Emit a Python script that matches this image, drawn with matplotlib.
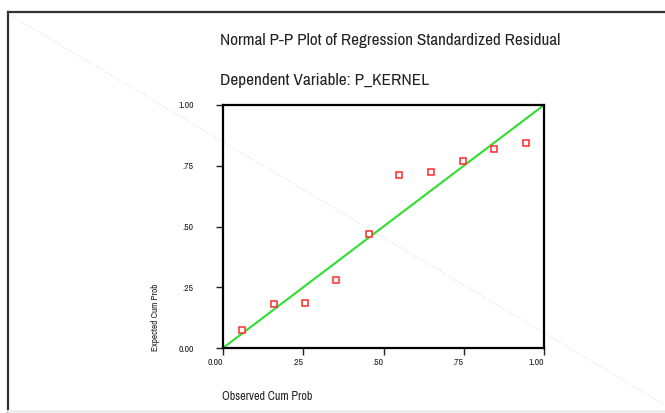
import matplotlib
matplotlib.use('Agg')
import matplotlib.pyplot as plt
from matplotlib import font_manager

# Data
observed = [0.059, 0.160, 0.255, 0.352, 0.454, 0.549, 0.649, 0.748, 0.843, 0.944]
expected = [0.075, 0.182, 0.186, 0.281, 0.470, 0.711, 0.725, 0.771, 0.819, 0.845]
ticks = [0.0, 0.25, 0.5, 0.75, 1.0]
tick_labels = ['0.00', '.25', '.50', '.75', '1.00']

# prefer a narrow sans face if one is installed
font = 'Liberation Sans'
for f in font_manager.fontManager.ttflist:
    if 'Narrow' in f.name or 'Condensed' in f.name:
        font = f.name
        break
plt.rcParams['font.family'] = [font, 'DejaVu Sans']

W, H = 665, 413
fig = plt.figure(figsize=(W / 100, H / 100), dpi=100)

# page frame and faint diagonal in the background
fig.add_artist(plt.Line2D([8 / W, 8 / W], [0, 1 - 12 / H], color='#333333', lw=1.6))
fig.add_artist(plt.Line2D([8 / W, 1], [1 - 12 / H, 1 - 12 / H], color='#333333', lw=1.6))
fig.add_artist(plt.Line2D([10 / W, 1], [1 - 15 / H, 1 - 405 / H], color='#e2e2e2',
                          lw=0.8, ls=':', zorder=0))
fig.add_artist(plt.Line2D([8 / W, 1], [2 / H, 2 / H], color='#ececec', lw=2))

ax = fig.add_axes([223 / W, 1 - 348 / H, 321 / W, 243 / H])
ax.set_facecolor('none')
ax.plot([0, 1], [0, 1], color='#2ede2e', lw=1.5, zorder=2)
ax.plot(observed, expected, ls='none', marker='s', ms=4.2, mfc='white',
        mec='#ff2a2a', mew=1.1, zorder=3, clip_on=False)

ax.set_xlim(0, 1)
ax.set_ylim(0, 1)
ax.set_xticks(ticks)
ax.set_xticklabels(tick_labels, ha='right')
ax.set_yticks(ticks)
ax.set_yticklabels(tick_labels)
ax.tick_params(axis='both', direction='out', length=5, width=1, labelsize=7,
               colors='#222222')
ax.tick_params(axis='y', pad=16)
ax.tick_params(axis='x', pad=2)
for s in ax.spines.values():
    s.set_linewidth(1.6)
    s.set_color('black')

texts = [
    (fig.text(220 / W, 1 - 40 / H, 'Normal P-P Plot of Regression Standardized Residual',
              fontsize=12, va='center', ha='left', color='#222222'), 338),
    (fig.text(220 / W, 1 - 80 / H, 'Dependent Variable: P_KERNEL',
              fontsize=12, va='center', ha='left', color='#222222'), 208),
    (fig.text(156 / W, 1 - 351 / H, 'Expected Cum Prob', rotation=90,
              fontsize=7, va='bottom', ha='center', color='#222222'), 68),
    (fig.text(222 / W, 1 - 397 / H, 'Observed Cum Prob',
              fontsize=8, va='center', ha='left', color='#222222'), 90),
]

# shrink each label so its length matches the reference
fig.canvas.draw()
r = fig.canvas.get_renderer()
for t, target in texts:
    bb = t.get_window_extent(r)
    length = max(bb.width, bb.height) if t.get_rotation() else bb.width
    t.set_fontsize(t.get_fontsize() * target / length)

fig.savefig('out.png', dpi=100)
